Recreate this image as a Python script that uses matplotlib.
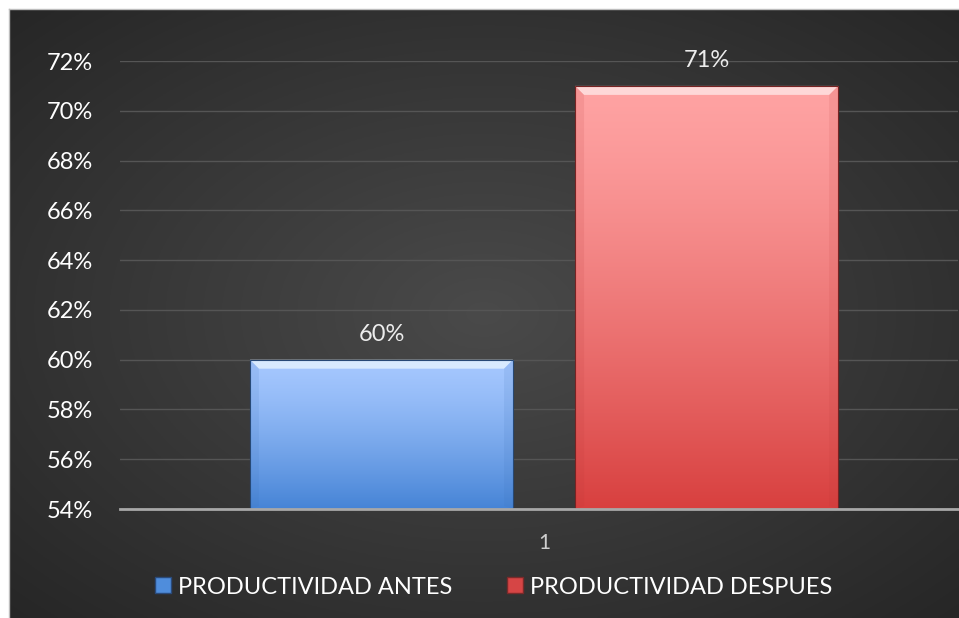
import numpy as np
import matplotlib.pyplot as plt
from matplotlib.colors import to_rgb
from matplotlib.patches import Patch, Polygon
from matplotlib.ticker import FuncFormatter

# Datos del gráfico
categorias = ["1"]
series = ["PRODUCTIVIDAD ANTES", "PRODUCTIVIDAD DESPUES"]
valores = [0.60, 0.71]
colores_arriba = ["#a6c8ff", "#ffa3a3"]
colores_abajo = ["#4684d6", "#d8403f"]
colores_brillo = ["#e2f1ff", "#ffe2e2"]
colores_leyenda = ["#4f8ddc", "#d64545"]

plt.rcParams["font.family"] = ["Lato", "DejaVu Sans"]

fig = plt.figure(figsize=(9.59, 6.18), dpi=100, facecolor="white")

# Fondo oscuro con degradado radial
bg = fig.add_axes([9 / 959, 0, 1 - 9 / 959, 1 - 9 / 618])
yy, xx = np.mgrid[-1:1:300j, -1:1:450j]
r = np.sqrt(xx ** 2 + yy ** 2) / np.sqrt(2)
grad = 0.29 - 0.14 * r
bg.imshow(np.dstack([grad, grad, grad]), aspect="auto", extent=(0, 1, 0, 1))
bg.set_xlim(0, 1)
bg.set_ylim(0, 1)
for s in bg.spines.values():
    s.set_color("#bdbdbd")
    s.set_linewidth(1)
bg.spines["right"].set_visible(False)
bg.spines["bottom"].set_visible(False)
bg.set_xticks([])
bg.set_yticks([])

ax = fig.add_axes([120 / 959, 109 / 618, 838 / 959, (509 - 61) / 618])
ax.patch.set_alpha(0)

x = np.arange(len(categorias))
ancho = 0.314
offsets = [-0.194, 0.194]
base = 0.54
ax.set_xlim(-0.506, 0.494)
ax.set_ylim(0.54, 0.72)

# tamaño de un píxel en unidades de datos
px_x = 1.0 / 838
px_y = 0.18 / 448

for i, v in enumerate(valores):
    barra = ax.bar(x + offsets[i], v - base, width=ancho, bottom=base,
                   color="none", edgecolor="none", zorder=3)[0]
    c1 = np.array(to_rgb(colores_arriba[i]))
    c2 = np.array(to_rgb(colores_abajo[i]))
    t = np.linspace(0, 1, 256)[:, None] ** 1.3
    img = c1 * (1 - t) + c2 * t
    img = img[:, None, :].repeat(2, axis=1)
    x0 = barra.get_x()
    x1 = x0 + ancho
    im = ax.imshow(img, aspect="auto", zorder=3,
                   extent=(x0, x1, base, v), interpolation="bilinear")
    im.set_clip_path(barra)

    # bisel superior y bordes
    h = 9
    bisel = Polygon([(x0, v), (x1, v), (x1 - h * px_x, v - h * px_y),
                     (x0 + h * px_x, v - h * px_y)], closed=True,
                    facecolor=colores_brillo[i], edgecolor="none", alpha=0.85, zorder=4)
    ax.add_patch(bisel)
    for lado in [(x0, x0 + h * px_x), (x1, x1 - h * px_x)]:
        ax.add_patch(Polygon([(lado[0], v), (lado[1], v - h * px_y),
                              (lado[1], base + 3 * px_y), (lado[0], base)],
                             closed=True, facecolor=c2 * 0.85, edgecolor="none",
                             alpha=0.12, zorder=4))
    ax.bar(x + offsets[i], v - base, width=ancho, bottom=base, color="none",
           edgecolor=c2 * 0.55, linewidth=0.8, zorder=4)
    ax.annotate(f"{v:.0%}", (x[0] + offsets[i], v), xytext=(0, 18),
                textcoords="offset points", ha="center", va="center",
                color="#ececec", fontsize=17, zorder=5)

ax.set_yticks(np.arange(0.54, 0.7201, 0.02))
ax.yaxis.set_major_formatter(FuncFormatter(lambda v, _: f"{v:.0%}"))
ax.set_xticks(x)
ax.set_xticklabels(categorias)
ax.tick_params(axis="y", length=0, pad=19.5, labelcolor="white", labelsize=17)
ax.tick_params(axis="x", length=0, pad=17, labelcolor="#cfcfcf", labelsize=15)
ax.grid(axis="y", color="#555555", linewidth=1, zorder=0)
for s in ["top", "right", "left"]:
    ax.spines[s].set_visible(False)
ax.spines["bottom"].set_color("#a8a8a8")
ax.spines["bottom"].set_linewidth(2)
ax.spines["bottom"].set_zorder(6)

handles = [Patch(facecolor=colores_leyenda[i], edgecolor="#2a4a7a" if i == 0 else "#7a2a2a")
           for i in range(len(series))]
fig.legend(handles, series, loc="center", bbox_to_anchor=(494 / 959, 1 - 587 / 618),
           ncol=2, frameon=False, fontsize=17, labelcolor="white",
           handlelength=0.68, handleheight=0.68, handletextpad=0.3,
           columnspacing=2.3, borderpad=0)

fig.savefig("out.png", dpi=100, facecolor="white")
